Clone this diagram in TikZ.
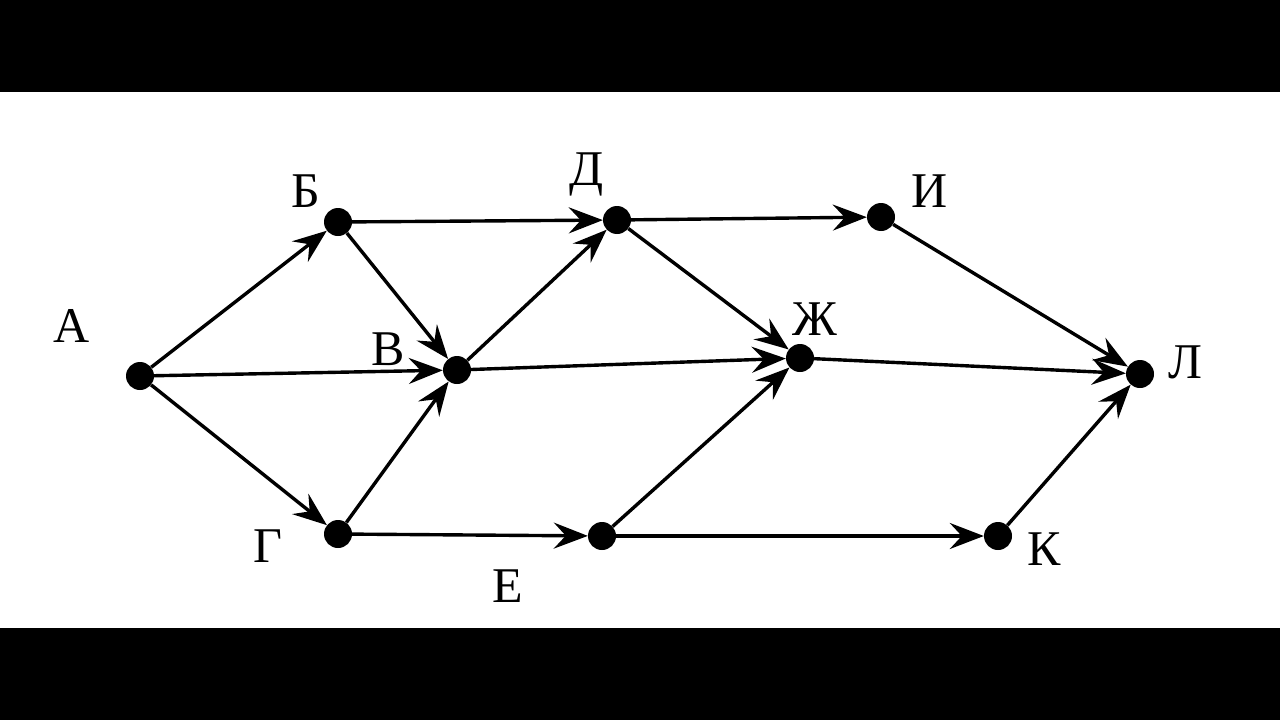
\documentclass[tikz,border=0pt]{standalone}
\usepackage{fontspec}
\setmainfont{Liberation Serif}
\usetikzlibrary{arrows.meta}
\begin{document}
\begin{tikzpicture}[x=1pt,y=-1pt,
  dot/.style={circle,fill=black,inner sep=0pt,minimum size=28pt},
  lbl/.style={anchor=base,inner sep=0pt,font=\fontsize{50}{60}\selectfont},
  edge/.style={line width=3.4pt,-{Stealth[length=34pt,width=26pt,inset=12pt]}}]
\useasboundingbox (0,0) rectangle (1280,720);
\fill[white] (0,0) rectangle (1280,720);
\fill[black] (0,0) rectangle (1280,92);
\fill[black] (0,628) rectangle (1280,720);
\node[dot] (A) at (140,376) {};
\node[dot] (B) at (338,222) {};
\node[dot] (V) at (457,370) {};
\node[dot] (G) at (338,534) {};
\node[dot] (D) at (617,220) {};
\node[dot] (E) at (602,536) {};
\node[dot] (Zh) at (800,358) {};
\node[dot] (I) at (881,217) {};
\node[dot] (K) at (998,536) {};
\node[dot] (L) at (1140,374) {};
\node[lbl] (tA) at (72,342) {А};
\node[lbl] (tB) at (306,207) {Б};
\node[lbl] (tV) at (388,365) {В};
\node[lbl] (tG) at (268,562) {Г};
\node[lbl] (tD) at (587,185) {Д};
\node[lbl] (tE) at (508,602) {Е};
\node[lbl] (tZh) at (815,335) {Ж};
\node[lbl] (tI) at (930,207) {И};
\node[lbl] (tK) at (1044,565) {К};
\node[lbl] (tL) at (1185,378) {Л};
\draw[edge] (A) -- (B);
\draw[edge] (A) -- (V);
\draw[edge] (A) -- (G);
\draw[edge] (B) -- (V);
\draw[edge] (B) -- (D);
\draw[edge] (G) -- (V);
\draw[edge] (V) -- (D);
\draw[edge] (V) -- (Zh);
\draw[edge] (G) -- (E);
\draw[edge] (D) -- (I);
\draw[edge] (D) -- (Zh);
\draw[edge] (E) -- (Zh);
\draw[edge] (E) -- (K);
\draw[edge] (I) -- (L);
\draw[edge] (Zh) -- (L);
\draw[edge] (K) -- (L);
\end{tikzpicture}
\end{document}
